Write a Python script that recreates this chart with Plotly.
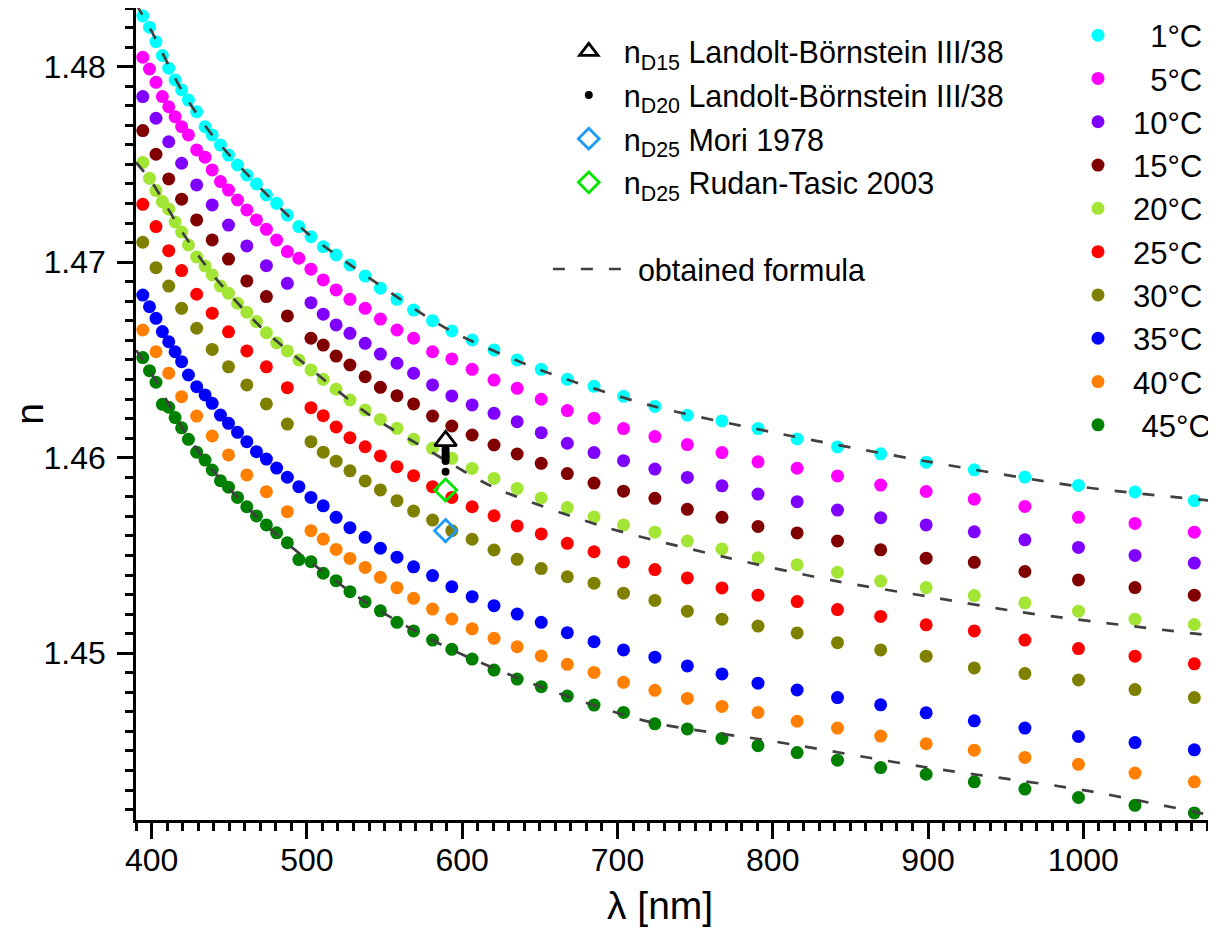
import plotly.graph_objects as go

# ---------------- data ----------------
wavelengths = [394.3, 398.6, 402.8, 406.9, 411.0, 415.1, 419.3, 423.7, 429.0, 434.4,
               439.0, 444.3, 449.5, 455.3, 461.3, 467.5, 473.9, 480.5, 487.4, 494.8,
               502.6, 510.5, 518.8, 527.7, 537.5, 547.3, 558.0, 568.7, 580.9, 593.3,
               606.4, 620.5, 635.4, 650.9, 667.7, 684.9, 703.9, 724.1, 745.0, 767.3,
               790.5, 815.7, 841.7, 869.5, 898.8, 929.8, 962.4, 996.9, 1033.3, 1071.5]

temperature_labels = ["\u00a0\u00a01°C", "\u00a0\u00a05°C", "10°C", "15°C", "20°C",
                      "25°C", "30°C", "35°C", "40°C", "\u00a045°C"]

n_1C = [1.48259, 1.48202, 1.48128, 1.48057, 1.47992, 1.47932, 1.47881, 1.47829, 1.47770, 1.47693,
        1.47651, 1.47599, 1.47548, 1.47497, 1.47446, 1.47400, 1.47344, 1.47301, 1.47241, 1.47182,
        1.47130, 1.47079, 1.47037, 1.46986, 1.46929, 1.46867, 1.46810, 1.46755, 1.46701, 1.46648,
        1.46602, 1.46551, 1.46500, 1.46452, 1.46401, 1.46365, 1.46314, 1.46262, 1.46217, 1.46188,
        1.46149, 1.46096, 1.46055, 1.46020, 1.45977, 1.45938, 1.45901, 1.45858, 1.45825, 1.45780]

n_5C = [1.48048, 1.47988, 1.47920, 1.47847, 1.47795, 1.47744, 1.47693, 1.47651, 1.47574, 1.47537,
        1.47472, 1.47412, 1.47369, 1.47318, 1.47267, 1.47216, 1.47168, 1.47113, 1.47054, 1.47020,
        1.46964, 1.46909, 1.46858, 1.46810, 1.46764, 1.46709, 1.46653, 1.46611, 1.46542, 1.46505,
        1.46452, 1.46397, 1.46355, 1.46299, 1.46241, 1.46202, 1.46149, 1.46108, 1.46067, 1.46026,
        1.45979, 1.45946, 1.45907, 1.45860, 1.45827, 1.45788, 1.45751, 1.45695, 1.45664, 1.45619]

n_10C = [1.47847, None, 1.47736, None, 1.47616, None, 1.47506, None, 1.47395, None,
         1.47293, None, 1.47190, None, 1.47083, None, 1.46982, None, 1.46892, None,
         1.46793, 1.46734, 1.46679, 1.46636, 1.46585, 1.46530, 1.46483, 1.46432, 1.46372, 1.46316,
         1.46270, 1.46227, 1.46184, 1.46128, 1.46074, 1.46026, 1.45985, 1.45942, 1.45899, 1.45856,
         1.45814, 1.45775, 1.45732, 1.45693, 1.45656, 1.45621, 1.45580, 1.45541, 1.45500, 1.45461]

n_15C = [1.47673, None, 1.47552, None, 1.47426, None, 1.47322, None, 1.47216, None,
         1.47114, None, 1.47016, None, 1.46904, None, 1.46824, None, 1.46725, None,
         1.46611, 1.46576, 1.46520, 1.46474, 1.46414, 1.46360, 1.46317, 1.46275, 1.46213, 1.46162,
         1.46116, 1.46065, 1.46019, 1.45971, 1.45919, 1.45870, 1.45829, 1.45792, 1.45736, 1.45695,
         1.45648, 1.45615, 1.45574, 1.45529, 1.45486, 1.45465, 1.45418, 1.45375, 1.45336, 1.45297]

n_20C = [1.47510, 1.47429, 1.47366, 1.47310, 1.47271, 1.47206, 1.47154, 1.47088, 1.47027, 1.46981,
         1.46935, 1.46878, 1.46841, 1.46790, 1.46744, 1.46696, 1.46639, 1.46588, 1.46546, 1.46500,
         1.46449, 1.46401, 1.46350, 1.46295, 1.46244, 1.46196, 1.46150, 1.46094, 1.46048, 1.45997,
         1.45945, 1.45894, 1.45843, 1.45794, 1.45745, 1.45697, 1.45656, 1.45619, 1.45574, 1.45533,
         1.45488, 1.45453, 1.45414, 1.45369, 1.45336, 1.45295, 1.45258, 1.45215, 1.45174, 1.45147]

n_25C = [1.47296, None, 1.47182, None, 1.47059, None, 1.46957, None, 1.46836, None,
         1.46739, None, 1.46644, None, 1.46546, None, 1.46465, None, 1.46358, None,
         1.46256, 1.46215, 1.46157, 1.46102, 1.46056, 1.46009, 1.45954, 1.45908, 1.45852, 1.45797,
         1.45749, 1.45703, 1.45651, 1.45610, 1.45562, 1.45519, 1.45467, 1.45428, 1.45385, 1.45334,
         1.45297, 1.45264, 1.45223, 1.45188, 1.45145, 1.45114, 1.45067, 1.45024, 1.44985, 1.44946]

n_30C = [1.47102, None, 1.46972, None, 1.46878, None, 1.46764, None, 1.46662, None,
         1.46554, None, 1.46465, None, 1.46372, None, 1.46275, None, 1.46172, None,
         1.46082, 1.46028, 1.45982, 1.45933, 1.45881, 1.45835, 1.45780, 1.45727, 1.45681, 1.45627,
         1.45583, 1.45528, 1.45480, 1.45433, 1.45391, 1.45358, 1.45307, 1.45270, 1.45215, 1.45174,
         1.45139, 1.45104, 1.45054, 1.45017, 1.44985, 1.44925, 1.44896, 1.44863, 1.44814, 1.44773]

n_35C = [1.46832, 1.46772, 1.46713, 1.46645, 1.46593, 1.46542, 1.46491, 1.46423, 1.46363, 1.46321,
         1.46278, 1.46218, 1.46176, 1.46130, 1.46082, 1.46031, 1.45993, 1.45947, 1.45900, 1.45852,
         1.45797, 1.45754, 1.45695, 1.45642, 1.45593, 1.45537, 1.45491, 1.45442, 1.45397, 1.45340,
         1.45289, 1.45243, 1.45200, 1.45158, 1.45105, 1.45059, 1.45017, 1.44980, 1.44935, 1.44894,
         1.44847, 1.44812, 1.44773, 1.44736, 1.44695, 1.44654, 1.44617, 1.44574, 1.44543, 1.44506]

n_40C = [1.46653, None, 1.46542, None, 1.46432, None, 1.46312, None, 1.46213, None,
         1.46111, None, 1.46014, None, 1.45912, None, 1.45826, None, 1.45724, None,
         1.45627, 1.45584, 1.45531, 1.45485, 1.45439, 1.45388, 1.45335, 1.45281, 1.45226, 1.45175,
         1.45125, 1.45076, 1.45033, 1.44986, 1.44943, 1.44902, 1.44851, 1.44810, 1.44769, 1.44728,
         1.44697, 1.44652, 1.44617, 1.44576, 1.44537, 1.44504, 1.44467, 1.44432, 1.44387, 1.44342]

n_45C = [1.46512, 1.46445, 1.46386, 1.46273, 1.46258, 1.46205, 1.46153, 1.46094, 1.46028, 1.45988,
         1.45937, 1.45882, 1.45849, 1.45797, 1.45749, 1.45702, 1.45656, 1.45616, 1.45565, 1.45479,
         1.45468, 1.45409, 1.45371, 1.45315, 1.45263, 1.45217, 1.45158, 1.45114, 1.45067, 1.45020,
         1.44970, 1.44914, 1.44868, 1.44829, 1.44781, 1.44735, 1.44697, 1.44639, 1.44613, 1.44564,
         1.44527, 1.44492, 1.44453, 1.44415, 1.44381, 1.44342, 1.44305, 1.44262, 1.44222, 1.44183]

# dashed "obtained formula" curves
formula_1C_wl = [390, 400, 420, 440, 470, 500, 540, 590, 650, 720, 800, 900, 1000, 1083]
formula_1C_n = [1.4832, 1.4818, 1.4787, 1.4764, 1.4738, 1.4715, 1.4692, 1.4666, 1.4645,
                1.4627, 1.4613, 1.4598, 1.4585, 1.4578]
formula_20C_wl = [390, 400, 420, 440, 470, 500, 540, 580, 620, 690, 770, 840, 900, 960, 1072, 1083]
formula_20C_n = [1.4751, 1.4741, 1.4715, 1.4693, 1.4667, 1.4647, 1.4622, 1.4603, 1.4585,
                 1.4565, 1.4549, 1.4537, 1.4529, 1.4521, 1.4510, 1.4509]
formula_45C_wl = [390, 400, 420, 440, 470, 500, 540, 590, 650, 720, 800, 900, 1000, 1083]
formula_45C_n = [1.4655, 1.4643, 1.4615, 1.4593, 1.4568, 1.4548, 1.4525, 1.4503, 1.4483,
                 1.4465, 1.4455, 1.44415, 1.4430, 1.4417]

# literature reference values at the sodium D line
ref_wl = 589.3
nD15_landolt = [1.46086]
nD20_landolt = [1.46044, 1.46029, 1.46013, 1.45998, 1.45983, 1.45928]
nD25_mori = [1.45627]
nD25_rudan = [1.45835]

x_ticks = [400, 500, 600, 700, 800, 900, 1000]
y_ticks = [1.45, 1.46, 1.47, 1.48]

# ---------------- figure ----------------
FONT = "Liberation Sans, Arial, sans-serif"
series = [n_1C, n_5C, n_10C, n_15C, n_20C, n_25C, n_30C, n_35C, n_40C, n_45C]
colors = ["#00FFFF", "#FF00FF", "#8000FF", "#800000", "#A2E535",
          "#FF0000", "#808000", "#0000FF", "#FF8000", "#008000"]

fig = go.Figure()
for lab, vals, col in zip(temperature_labels, series, colors):
    fig.add_trace(go.Scatter(x=wavelengths, y=vals, mode="markers", name=lab,
                             marker=dict(size=13, color=col, line=dict(width=0)),
                             legend="legend2"))

for i, (wl, nv) in enumerate([(formula_1C_wl, formula_1C_n),
                              (formula_20C_wl, formula_20C_n),
                              (formula_45C_wl, formula_45C_n)]):
    fig.add_trace(go.Scatter(x=wl, y=nv, mode="lines", name="obtained formula",
                             line=dict(color="#404040", width=2.7, dash="12px,16px",
                                       shape="spline", smoothing=0.8),
                             showlegend=(i == 0), legend="legend3"))

fig.add_trace(go.Scatter(x=[ref_wl] * len(nD15_landolt), y=nD15_landolt, mode="markers",
                         name="n<sub>D15</sub> Landolt-Börnstein III/38", legendgroup="a",
                         marker=dict(symbol="triangle-up-open", size=19, color="black",
                                     line=dict(width=2.8, color="black")),
                         legend="legend"))
fig.add_trace(go.Scatter(x=[ref_wl] * len(nD20_landolt), y=nD20_landolt, mode="markers",
                         name="n<sub>D20</sub> Landolt-Börnstein III/38", legendgroup="b",
                         marker=dict(symbol="circle", size=8, color="black"),
                         legend="legend"))
fig.add_trace(go.Scatter(x=[ref_wl], y=nD25_mori, mode="markers", legendgroup="c",
                         name="n<sub>D25</sub> Mori 1978",
                         marker=dict(symbol="diamond-open", size=17, color="#1E9BF5",
                                     line=dict(width=2.8, color="#1E9BF5")),
                         legend="legend"))
fig.add_trace(go.Scatter(x=[ref_wl], y=nD25_rudan, mode="markers", legendgroup="d",
                         name="n<sub>D25</sub> Rudan-Tasic 2003",
                         marker=dict(symbol="diamond-open", size=17, color="#00E600",
                                     line=dict(width=2.8, color="#00E600")),
                         legend="legend"))

axis_common = dict(showgrid=False, zeroline=False, showline=True, linecolor="black",
                   linewidth=2.5, ticks="outside", ticklen=16, tickwidth=2.5,
                   tickcolor="black", automargin=False,
                   tickfont=dict(family=FONT, size=32, color="black"))

fig.update_layout(
    width=1208, height=922,
    margin=dict(l=128, r=3, t=0, b=110),
    paper_bgcolor="white", plot_bgcolor="white",
    font=dict(family=FONT, color="black"),
    xaxis=dict(range=[389.92, 1081.6], tickvals=x_ticks, ticklabelstandoff=-6,
               minor=dict(ticks="outside", ticklen=8, tickwidth=2.5, tickcolor="black",
                          dtick=10, tick0=390),
               **axis_common),
    yaxis=dict(range=[1.44147, 1.48300], tickvals=y_ticks, tickformat=".2f",
               ticklabelstandoff=5,
               minor=dict(ticks="outside", ticklen=8, tickwidth=2.5, tickcolor="black",
                          dtick=0.001, tick0=1.44),
               title=dict(text="n", font=dict(family=FONT, size=39), standoff=8),
               **axis_common),
    annotations=[dict(text="λ [nm]", xref="paper", yref="paper", x=0.4875, y=-0.1059,
                      xanchor="center", yanchor="middle", showarrow=False,
                      font=dict(family=FONT, size=39, color="black"))],
    legend=dict(x=0.389, y=0.9790, xanchor="left", yanchor="top", bgcolor="rgba(0,0,0,0)",
                font=dict(family=FONT, size=30.5), itemwidth=60, borderwidth=0,
                tracegroupgap=1),
    legend2=dict(x=0.8635, y=0.9994, xanchor="left", yanchor="top", bgcolor="rgba(0,0,0,0)",
                 font=dict(family=FONT, size=31), itemwidth=60, borderwidth=0),
    legend3=dict(x=0.3835, y=0.711, xanchor="left", yanchor="top", bgcolor="rgba(0,0,0,0)",
                 font=dict(family=FONT, size=30.5), itemwidth=80, borderwidth=0),
)

fig.write_html("out.html")
